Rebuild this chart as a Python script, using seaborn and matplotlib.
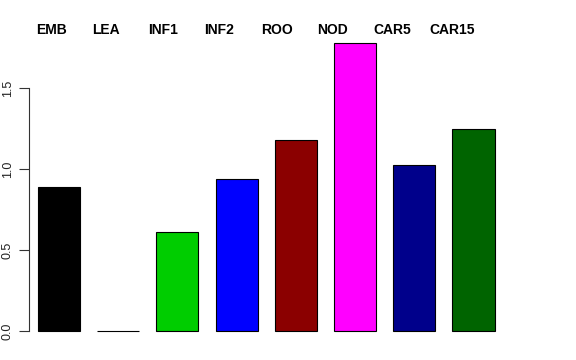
import matplotlib
matplotlib.use("Agg")
import matplotlib.pyplot as plt
import seaborn as sns
import pandas as pd

categories = ["EMB", "LEA", "INF1", "INF2", "ROO", "NOD", "CAR5", "CAR15"]
values = [0.889, 0.0, 0.611, 0.938, 1.179, 1.778, 1.025, 1.247]
colors = ["#000000", "#FF0000", "#00CD00", "#0000FF", "#8B0000", "#FF00FF", "#00008B", "#006400"]
yticks = [0.0, 0.5, 1.0, 1.5]
ytick_labels = ["0.0", "0.5", "1.0", "1.5"]

sns.set_theme(style="white")
plt.rcParams['font.family'] = ['Liberation Sans', 'DejaVu Sans']

df = pd.DataFrame({"cat": categories, "val": values})

fig = plt.figure(figsize=(5.76, 3.6), dpi=100)
ax = fig.add_axes([29/576, 17.5/360, 474.5/576, 311/360])

sns.barplot(data=df, x="cat", y="val", hue="cat", palette=colors, legend=False,
            width=0.71, edgecolor="black", linewidth=0.8, ax=ax, saturation=1)

ax.set_xlim(-0.507, len(categories) - 1 + 0.507)
ax.set_ylim(-0.04 * max(values), max(values) * 1.04)
ax.set_xlabel("")
ax.set_ylabel("")
ax.set_xticks([])
ax.set_yticks(yticks)
ax.set_yticklabels(ytick_labels, rotation=90, va="center", fontsize=9, color="#222222")
ax.tick_params(axis="y", left=True, length=7, width=0.8, color="#333333", pad=4)
for s in ["top", "right", "bottom"]:
    ax.spines[s].set_visible(False)
ax.spines["left"].set_bounds(yticks[0], yticks[-1])
ax.spines["left"].set_linewidth(0.8)
ax.spines["left"].set_color("#333333")

# top labels
for i, lab in enumerate(categories):
    xpx = 36.0 + 56.2 * i
    fig.text(xpx / 576, 1 - 30 / 360, lab, ha="left", va="center",
             fontsize=10, fontweight="bold", color="black")

fig.savefig("out.png", dpi=100)
